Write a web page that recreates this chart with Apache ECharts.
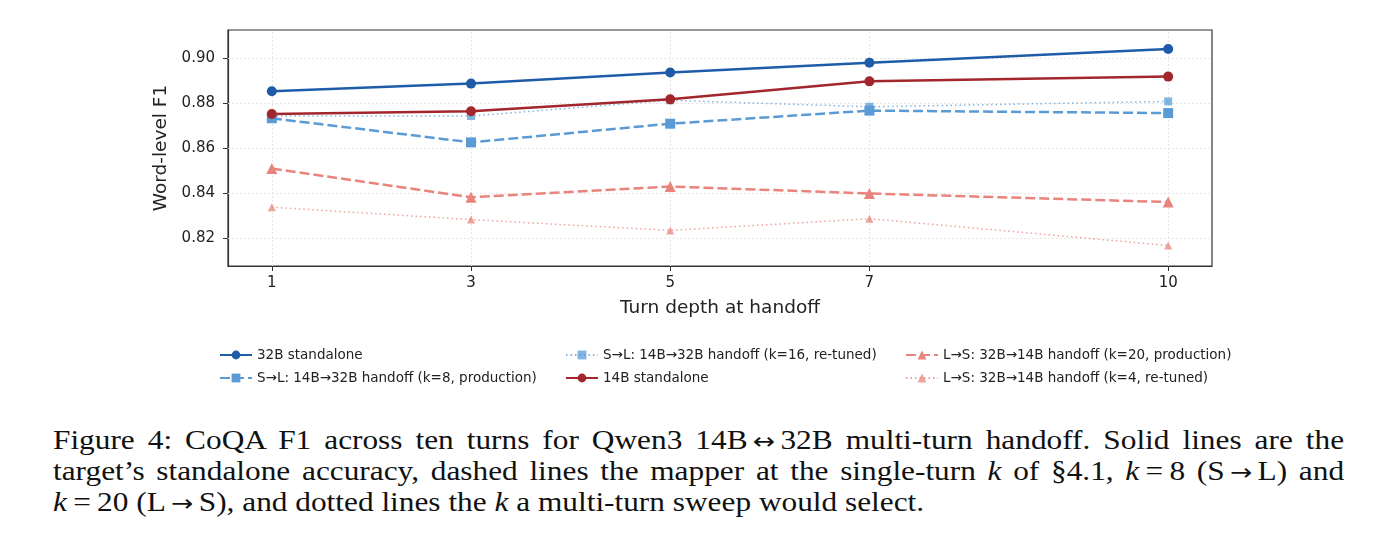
<!DOCTYPE html>
<html>
<head>
<meta charset="utf-8">
<script src="https://cdn.jsdelivr.net/npm/echarts@6/dist/echarts.min.js"></script>
<style>
  html, body { margin: 0; padding: 0; background: #fff; }
  #wrap { position: relative; width: 1400px; height: 556px; overflow: hidden; }
  #main { position: absolute; left: 0; top: 0; width: 1400px; height: 400px; }
  #caption {
    position: absolute; left: 53px; top: 425px; width: 1113px;
    transform: scaleX(1.16); transform-origin: 0 0;
    font-family: "Liberation Serif", "DejaVu Serif", serif;
    font-size: 27px; line-height: 30px; color: #111;
  }
  #caption div { text-align: justify; text-align-last: justify; white-space: nowrap; }
  #caption div.last { text-align-last: left; }
  #caption i { font-style: italic; }
  #caption .rel { margin: 0 0.2em; }
  #caption .ar { font-family: "DejaVu Sans", sans-serif; font-size: 0.85em; margin: 0 0.2em; }
</style>
</head>
<body>
<div id="wrap">
  <div id="main"></div>
  <div id="caption">
    <div>Figure 4: CoQA F1 across ten turns for Qwen3 14B<span class="ar">↔</span>32B multi-turn handoff. Solid lines are the</div>
    <div>target’s standalone accuracy, dashed lines the mapper at the single-turn <i>k</i> of §4.1, <i>k</i><span class="rel">=</span>8 (S<span class="ar">→</span>L) and</div>
    <div class="last"><i>k</i><span class="rel">=</span>20 (L<span class="ar">→</span>S), and dotted lines the <i>k</i> a multi-turn sweep would select.</div>
  </div>
</div>
<script>
// turn depth at handoff
const turns = [1, 3, 5, 7, 10];
const yTicks = [0.82, 0.84, 0.86, 0.88, 0.90];

const names = [
  '32B standalone',
  'S→L: 14B→32B handoff (k=8, production)',
  'S→L: 14B→32B handoff (k=16, re-tuned)',
  '14B standalone',
  'L→S: 32B→14B handoff (k=20, production)',
  'L→S: 32B→14B handoff (k=4, re-tuned)'
];

// word-level F1
const f1_32b = [0.8852, 0.8886, 0.8935, 0.8979, 0.9040];
const f1_sl8 = [0.8732, 0.8625, 0.8708, 0.8766, 0.8755];
const f1_sl16 = [0.8742, 0.8742, 0.8812, 0.8783, 0.8807];
const f1_14b = [0.8751, 0.8763, 0.8816, 0.8896, 0.8917];
const f1_ls20 = [0.8509, 0.8381, 0.8429, 0.8398, 0.8360];
const f1_ls4 = [0.8337, 0.8282, 0.8234, 0.8286, 0.8167];

const darkBlue = '#1f5ca8';
const lightBlue = '#5b9bd5';
const darkRed = '#a3262c';
const salmon = '#e8847c';

function pts(vals) {
  return turns.map((t, i) => [t, vals[i]]);
}

// light dotted grid, matplotlib style
const gridLines = yTicks.map(v => ({ yAxis: v })).concat(turns.map(t => ({ xAxis: t })));

function mkSeries(name, vals, color, lineType, width, symbol, size, opacity) {
  return {
    name: name,
    type: 'line',
    data: pts(vals),
    symbol: symbol,
    symbolSize: size,
    showSymbol: true,
    z: 3,
    lineStyle: { color: color, width: width, type: lineType, opacity: opacity },
    itemStyle: { color: color, opacity: opacity, borderWidth: 0 },
    emphasis: { disabled: true },
    animation: false
  };
}

const series = [
  mkSeries(names[0], f1_32b, darkBlue, 'solid', 2.5, 'circle', 10, 1),
  mkSeries(names[1], f1_sl8, lightBlue, [10, 4], 2.5, 'rect', 10, 1),
  mkSeries(names[2], f1_sl16, lightBlue, [1.5, 3], 1.5, 'rect', 8, 0.75),
  mkSeries(names[3], f1_14b, darkRed, 'solid', 2.5, 'circle', 10, 1),
  mkSeries(names[4], f1_ls20, salmon, [10, 4], 2.5, 'triangle', 11, 1),
  mkSeries(names[5], f1_ls4, salmon, [1.5, 3], 1.5, 'triangle', 8, 0.75)
];
// grid lines go under everything
series.unshift({
  type: 'line',
  data: [],
  silent: true,
  z: 1,
  markLine: {
    silent: true,
    z: 1,
    symbol: 'none',
    label: { show: false },
    lineStyle: { color: '#e6e6e6', width: 1, type: [2, 2] },
    data: gridLines,
    animation: false
  }
});

const legendText = { fontFamily: 'DejaVu Sans', fontSize: 13.5, color: '#222' };
function mkLegend(left, items) {
  return {
    left: left, top: 343, orient: 'vertical', itemGap: 9,
    itemWidth: 32, itemHeight: 11, selectedMode: false,
    textStyle: legendText, data: items
  };
}

var myChart = echarts.init(document.getElementById('main'));
var option = {
  backgroundColor: '#fff',
  animation: false,
  textStyle: { fontFamily: 'DejaVu Sans' },
  grid: {
    left: 228, right: 188, top: 30, height: 236,
    show: true, borderColor: '#333', borderWidth: 1.2, backgroundColor: 'transparent'
  },
  legend: [
    mkLegend(214, [names[0], names[1]]),
    mkLegend(560, [names[2], names[3]]),
    mkLegend(900, [names[4], names[5]])
  ],
  xAxis: {
    type: 'value', min: 0.56, max: 10.44,
    name: 'Turn depth at handoff', nameLocation: 'middle', nameGap: 33,
    nameTextStyle: { fontFamily: 'DejaVu Sans', fontSize: 18.5, color: '#222' },
    axisLine: { show: true, lineStyle: { color: '#333', width: 1.2 } },
    axisTick: { show: true, customValues: turns, length: 5, lineStyle: { color: '#333' } },
    axisLabel: { customValues: turns, fontFamily: 'DejaVu Sans', fontSize: 15, color: '#222', margin: 10 },
    splitLine: { show: false }
  },
  yAxis: {
    type: 'value', min: 0.8076, max: 0.9124,
    name: 'Word-level F1', nameLocation: 'middle', nameGap: 53,
    nameTextStyle: { fontFamily: 'DejaVu Sans', fontSize: 18.5, color: '#222' },
    axisLine: { show: true, lineStyle: { color: '#333', width: 1.2 } },
    axisTick: { show: true, customValues: yTicks, length: 5, lineStyle: { color: '#333' } },
    axisLabel: {
      customValues: yTicks, fontFamily: 'DejaVu Sans', fontSize: 15, color: '#222', margin: 13,
      formatter: v => v.toFixed(2)
    },
    splitLine: { show: false }
  },
  series: series
};
myChart.setOption(option);
</script>
</body>
</html>
